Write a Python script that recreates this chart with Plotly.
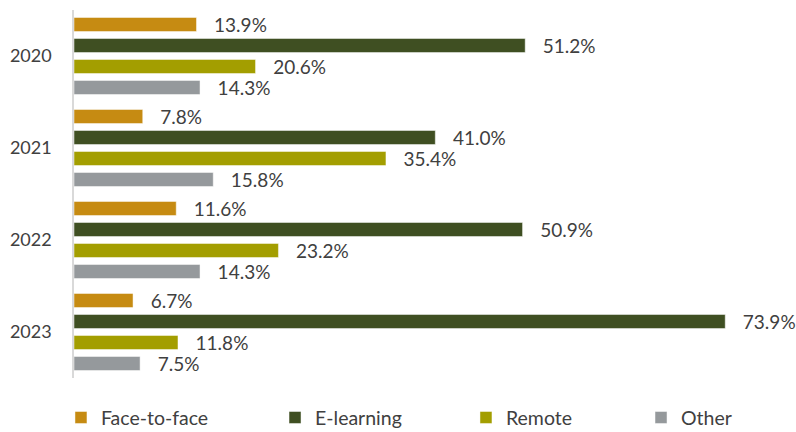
import plotly.graph_objects as go

years = ["2020", "2021", "2022", "2023"]
series_names = ["Face-to-face", "E-learning", "Remote", "Other"]
face_to_face = [13.9, 7.8, 11.6, 6.7]
e_learning = [51.2, 41.0, 50.9, 73.9]
remote = [20.6, 35.4, 23.2, 11.8]
other = [14.3, 15.8, 14.3, 7.5]

colors = ["#C68B12", "#3F4F22", "#A39E00", "#95999C"]
values = [face_to_face, e_learning, remote, other]
legend_ids = ["legend", "legend2", "legend3", "legend4"]
legend_x = [0.0766, 0.3455, 0.5854, 0.8053]

FONT = "Lato, 'Open Sans', sans-serif"
TEXT_COLOR = "#404040"

fig = go.Figure()
for name, vals, col, lid in zip(series_names, values, colors, legend_ids):
    fig.add_trace(go.Bar(
        y=years,
        x=vals,
        name=name,
        orientation="h",
        marker=dict(color=col, line=dict(color="rgba(255,255,255,0.6)", width=0.8)),
        text=[f"\u00a0\u00a0\u00a0{v:.1f}%" for v in vals],
        textposition="outside",
        constraintext="none",
        textfont=dict(family=FONT, size=19, color=TEXT_COLOR),
        cliponaxis=False,
        legend=lid,
        hoverinfo="skip",
    ))

layout_legends = {}
for lid, lx in zip(legend_ids, legend_x):
    layout_legends[lid] = dict(
        x=lx, y=0.078, xref="container", yref="container",
        xanchor="left", yanchor="top",
        orientation="h",
        font=dict(family=FONT, size=19.5, color=TEXT_COLOR),
        bgcolor="rgba(0,0,0,0)",
        itemwidth=30,
    )

fig.update_layout(
    width=796, height=432,
    margin=dict(l=68, r=17, t=10, b=54),
    paper_bgcolor="white",
    plot_bgcolor="white",
    barmode="group",
    bargap=0.087,
    bargroupgap=0.33,
    showlegend=True,
    xaxis=dict(range=[0, 80], visible=False, fixedrange=True),
    yaxis=dict(
        categoryorder="array", categoryarray=years,
        autorange="reversed",
        showline=True, linecolor="#D9D9D9", linewidth=1.5,
        showgrid=False, ticks="", ticklabelstandoff=17,
        tickfont=dict(family=FONT, size=18, color=TEXT_COLOR),
    ),
    **layout_legends,
)

fig.write_html("out.html")
